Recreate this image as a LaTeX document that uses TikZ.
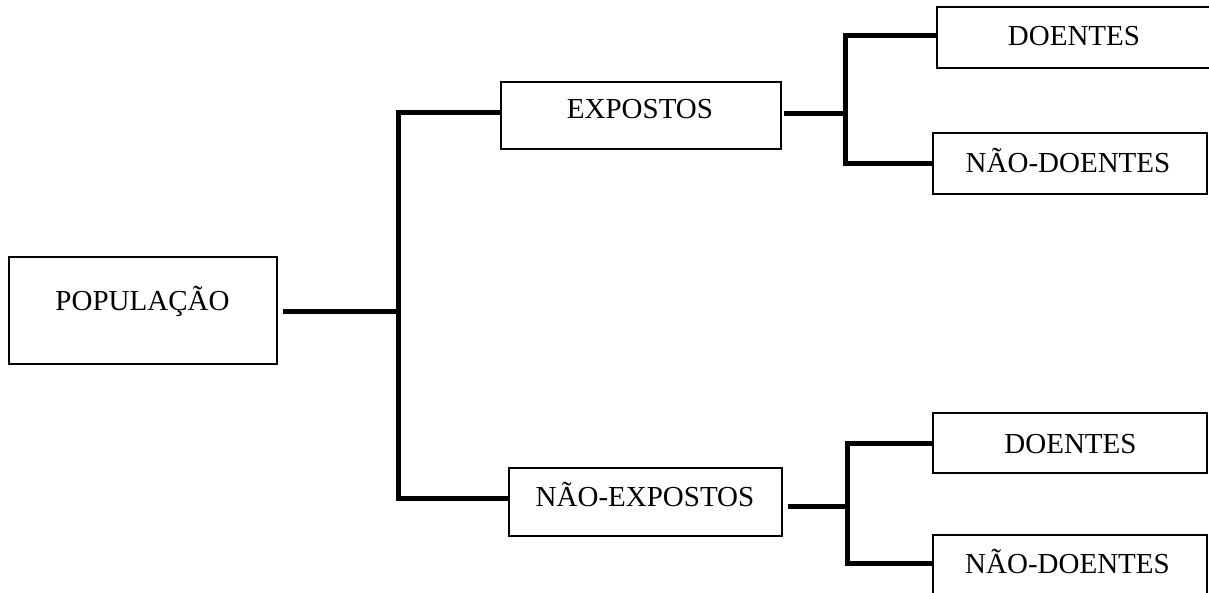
\documentclass[tikz,border=0pt]{standalone}
\usepackage{fontspec}
\setmainfont{Liberation Serif}
\begin{document}
\begin{tikzpicture}[x=1pt,y=-1pt,
  box/.style={draw,line width=1.2pt,inner sep=0pt,rectangle},
  lbl/.style={inner sep=0pt,text height=20pt,text depth=0pt,font=\fontsize{29}{34}\selectfont},
  conn/.style={line width=5pt,line join=miter,line cap=butt}]
\clip (0,0) rectangle (1209,593);
\fill[white] (0,0) rectangle (1209,593);
% boxes
\node[box,minimum width=268pt,minimum height=107pt] (pop) at (143,310.5) {};
\node[box,minimum width=280pt,minimum height=67pt] (exp) at (641,115.5) {};
\node[box,minimum width=273pt,minimum height=68pt] (nexp) at (645.5,502) {};
\node[box,minimum width=284pt,minimum height=61pt] (d1) at (1079,37.5) {};
\node[box,minimum width=274pt,minimum height=61pt] (nd1) at (1070,163.5) {};
\node[box,minimum width=274pt,minimum height=60pt] (d2) at (1070,443) {};
\node[box,minimum width=274pt,minimum height=62pt] (nd2) at (1070,566) {};
% labels
\node[lbl] (popt) at (142.5,300.5) {POPULAÇÃO};
\node[lbl] (expt) at (640,109) {EXPOSTOS};
\node[lbl] (nexpt) at (645,496.5) {NÃO-EXPOSTOS};
\node[lbl] (d1t) at (1074,36) {DOENTES};
\node[lbl] (nd1t) at (1068,163) {NÃO-DOENTES};
\node[lbl] (d2t) at (1070.5,443) {DOENTES};
\node[lbl] (nd2t) at (1067.5,563) {NÃO-DOENTES};
% junctions
\coordinate (ja) at (398,312);
\coordinate (jb) at (845,114);
\coordinate (jc) at (847,506);
% connectors
\draw[conn] ([xshift=5pt,yshift=-1.5pt]pop.east) -- (ja);
\draw[conn] ([yshift=2.5pt]exp.west) -| (ja) |- ([yshift=4pt]nexp.west);
\draw[conn] ([xshift=2pt,yshift=1.5pt]exp.east) -- (jb);
\draw[conn] ([yshift=1.5pt]d1.west) -| (jb) |- (nd1.west);
\draw[conn] ([xshift=5pt,yshift=-4pt]nexp.east) -- (jc);
\draw[conn] (d2.west) -| (jc) |- ([yshift=3pt]nd2.west);
\end{tikzpicture}
\end{document}
